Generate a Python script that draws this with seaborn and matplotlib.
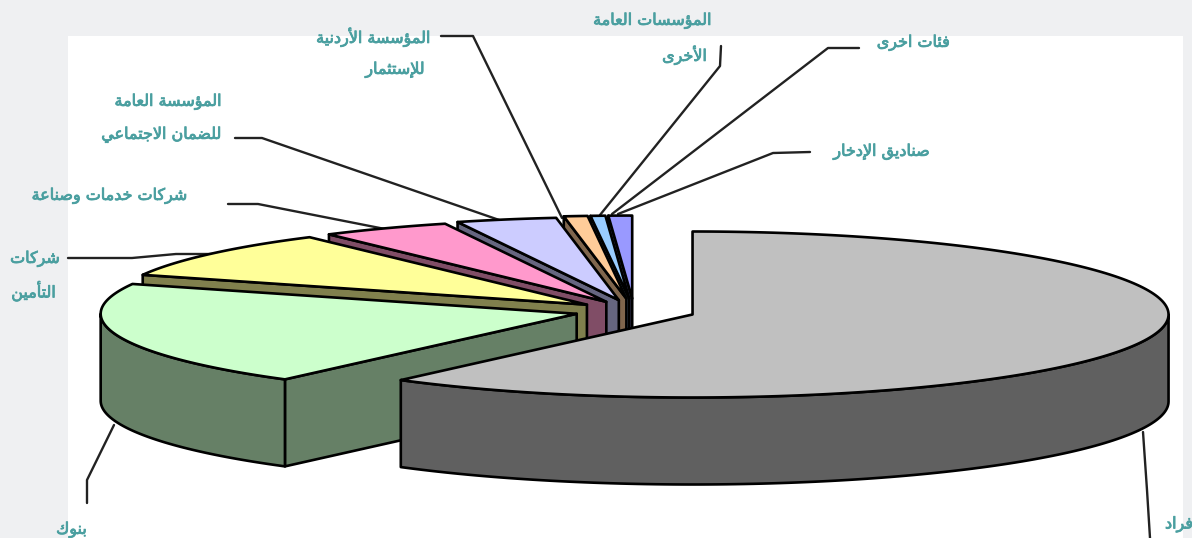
import numpy as np
import matplotlib
matplotlib.use("Agg")
import matplotlib.pyplot as plt
import matplotlib.patheffects as pe
import seaborn as sns

# ---------- data ----------
values = [60.5, 20.35, 9.25, 4.4, 3.4, 0.8, 0.5, 0.8]
top_colors = ["#C0C0C0", "#CCFFCC", "#FFFF99", "#FF99CC", "#CCCCFF", "#FFCC99", "#99CCFF", "#9999FF"]
explode = [0.13, 0.125, 0.125, 0.125, 0.135, 0.15, 0.15, 0.15]
label_lines = [["أفراد"], ["بنوك"], ["شركات", "التأمين"], ["شركات خدمات وصناعة"],
               ["المؤسسة العامة", "للضمان الاجتماعي"], ["المؤسسة الأردنية", "للإستثمار"],
               ["المؤسسات العامة", "الأخرى"], ["فئات اخرى"], ["صناديق الإدخار"]]
# text anchors: x, y of each line, horizontal alignment
label_pos = [[(1165, 522, "left")], [(87, 530, "right")], [(60, 259, "right"), (56, 291, "right")],
             [(188, 196, "right")], [(222, 102, "right"), (222, 135, "right")],
             [(431, 37, "right"), (425, 70, "right")], [(712, 21, "right"), (707, 55, "right")],
             [(950, 43, "right")], [(930, 152, "right")]]
leaders = [[(1143, 432), (1147, 490), (1150, 538)],
           [(114, 425), (87, 480), (87, 503)],
           [(68, 258), (132, 258), (176, 254), (215, 254)],
           [(228, 204), (258, 204), (385, 229)],
           [(235, 138), (262, 138), (505, 222)],
           [(441, 36), (473, 36), (562, 218)],
           [(721, 46), (720, 66), (600, 215)],
           [(859, 48), (828, 48), (612, 214)],
           [(810, 152), (773, 153), (618, 214)]]

# ---------- Arabic shaping (matplotlib has no bidi / joining support) ----------
_order = [("ء",1),("آ",2),("أ",2),("ؤ",2),("إ",2),("ئ",4),("ا",2),("ب",4),("ة",2),("ت",4),("ث",4),("ج",4),
          ("ح",4),("خ",4),("د",2),("ذ",2),("ر",2),("ز",2),("س",4),("ش",4),("ص",4),("ض",4),("ط",4),("ظ",4),
          ("ع",4),("غ",4),("ف",4),("ق",4),("ك",4),("ل",4),("م",4),("ن",4),("ه",4),("و",2),("ى",2),("ي",4)]
FORMS, _c = {}, 0xFE80
for _ch, _n in _order:
    FORMS[_ch] = [chr(_c + k) for k in range(_n)]
    _c += _n
LAM_ALEF = {"آ": 0xFEF5, "أ": 0xFEF7, "إ": 0xFEF9, "ا": 0xFEFB}

def shape(word):
    out, i, prev_joins = [], 0, False
    while i < len(word):
        ch = word[i]
        if ch not in FORMS:
            out.append(ch); prev_joins = False; i += 1; continue
        nxt = word[i + 1] if i + 1 < len(word) else ""
        if ch == "ل" and nxt in LAM_ALEF:
            out.append(chr(LAM_ALEF[nxt] + (1 if prev_joins else 0)))
            prev_joins = False; i += 2; continue
        f = FORMS[ch]
        next_ok = nxt in FORMS and nxt != "ء"
        if len(f) == 4:
            form = (3 if next_ok else 1) if prev_joins else (2 if next_ok else 0)
            prev_joins = next_ok
        elif len(f) == 2:
            form = 1 if prev_joins else 0
            prev_joins = False
        else:
            form = 0; prev_joins = False
        out.append(f[form]); i += 1
    return "".join(reversed(out))

# ---------- layout ----------
W, H = 1192, 538
CX, CY, A, B, DEPTH = 634, 311, 476, 83, 87
BG, TEXT = "#EFF0F2", "#4A9FA0"

sns.set_theme(style="white")
plt.rcParams["font.family"] = ["DejaVu Sans"]
palette = sns.color_palette(top_colors)
walls = [tuple(c * 0.5 for c in col) for col in palette]

fig = plt.figure(figsize=(W / 100, H / 100), dpi=100, facecolor=BG)
ax = fig.add_axes([0, 0, 1, 1])
ax.set_xlim(0, W); ax.set_ylim(H, 0); ax.axis("off")
ax.fill([68, 1183, 1183, 68], [36, 36, 538, 538], color="white", lw=0, zorder=0)

edges = np.concatenate([[0], np.cumsum(values)]) / np.sum(values) * 2 * np.pi
def rim(ax0, ay0, t):
    return ax0 + A * np.sin(t), ay0 - B * np.cos(t)

kw = dict(edgecolor="black", linewidth=1.9, joinstyle="round")
z = 1
for i in reversed(range(len(values))):
    t1, t2 = edges[i], edges[i + 1]
    mid = (t1 + t2) / 2
    ax0, ay0 = CX + explode[i] * A * np.sin(mid), CY - explode[i] * B * np.cos(mid)
    # radial wall facing the viewer
    if t1 > np.pi:
        px, py = rim(ax0, ay0, t1)
        ax.fill([ax0, px, px, ax0], [ay0, py, py + DEPTH, ay0 + DEPTH], facecolor=walls[i], zorder=z, **kw); z += 1
    # outer wall, front half only
    lo, hi = max(t1, np.pi / 2), min(t2, 3 * np.pi / 2)
    if lo < hi:
        t = np.linspace(lo, hi, 120)
        x, y = rim(ax0, ay0, t)
        ax.fill(np.r_[x, x[::-1]], np.r_[y, y[::-1] + DEPTH], facecolor=walls[i], zorder=z, **kw); z += 1
    # top face
    t = np.linspace(t1, t2, 200)
    x, y = rim(ax0, ay0, t)
    ax.fill(np.r_[ax0, x], np.r_[ay0, y], facecolor=palette[i], zorder=z, **kw); z += 1

for pts in leaders:
    xs, ys = zip(*pts)
    ax.plot(xs, ys, color="#222222", lw=1.7, zorder=0.5, solid_joinstyle="round")

for lines, poss in zip(label_lines, label_pos):
    for s, (x, y, ha) in zip(lines, poss):
        ax.text(x, y, shape(s), ha=ha, va="center", color=TEXT, fontsize=11.5, zorder=200,
                path_effects=[pe.withStroke(linewidth=0.6, foreground=TEXT)])

fig.savefig("out.png", dpi=100, facecolor=BG)
